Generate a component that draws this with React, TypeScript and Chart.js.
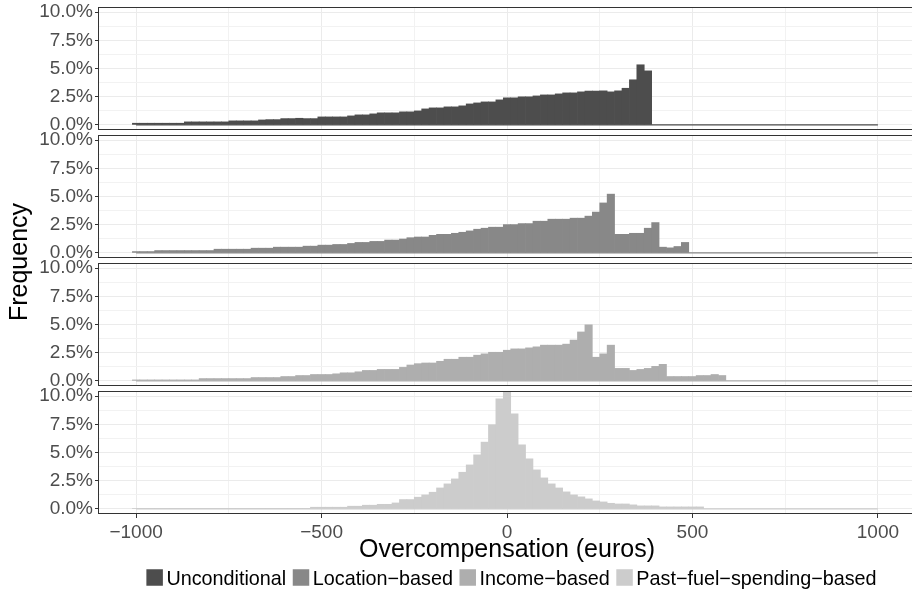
import React, { useEffect, useRef } from 'react';
import { Chart, registerables } from 'chart.js';

Chart.register(...registerables);

// ---------------- data ----------------
const BIN_CENTERS = [
  -1000, -980, -960, -940, -920, -900, -880, -860, -840, -820, -800, -780, -760, -740, -720, -700,
  -680, -660, -640, -620, -600, -580, -560, -540, -520, -500, -480, -460, -440, -420, -400, -380,
  -360, -340, -320, -300, -280, -260, -240, -220, -200, -180, -160, -140, -120, -100, -80, -60,
  -40, -20, 0, 20, 40, 60, 80, 100, 120, 140, 160, 180, 200, 220, 240, 260, 280, 300, 320, 340,
  360, 380, 400, 420, 440, 460, 480, 500, 520, 540, 560, 580, 600, 620, 640, 660, 680, 700, 720,
  740, 760, 780, 800, 820, 840, 860, 880, 900, 920, 940, 960, 980, 1000,
];

const SERIES_LABELS = ['Unconditional', 'Location\u2212based', 'Income\u2212based', 'Past\u2212fuel\u2212spending\u2212based'];
const SERIES_COLORS = ['#4D4D4D', '#888888', '#AEAEAE', '#CCCCCC'];

// frequency (%) per bin, starting at bin centre -1000
const UNCONDITIONAL = [
  0.15, 0.15, 0.15, 0.15, 0.15, 0.15, 0.15,
  0.27, 0.27, 0.27, 0.27, 0.27, 0.27,
  0.36, 0.36, 0.36, 0.36,
  0.44, 0.47, 0.47, 0.56, 0.56, 0.59, 0.56, 0.56,
  0.71, 0.71, 0.71, 0.71, 0.8, 0.89, 0.89, 0.98,
  1.07, 1.07, 1.07, 1.16, 1.16, 1.24,
  1.42, 1.51, 1.51, 1.6, 1.6, 1.69, 1.86, 1.95, 2.04, 2.04, 2.22,
  2.4, 2.4, 2.49, 2.49, 2.57, 2.66, 2.66, 2.75, 2.84, 2.84,
  2.93, 3.0, 3.0, 3.02, 2.93, 3.02, 3.25, 4.0, 5.33, 4.79,
];

const LOCATION_BASED = [
  0.12, 0.12, 0.12,
  0.21, 0.21, 0.21, 0.21, 0.21, 0.21, 0.21, 0.21,
  0.33, 0.33, 0.33, 0.33, 0.33,
  0.42, 0.42, 0.42,
  0.51, 0.51, 0.51, 0.51,
  0.6, 0.6, 0.69, 0.69, 0.75, 0.75, 0.84, 0.93, 0.93, 1.02, 1.02, 1.14, 1.14, 1.23, 1.35,
  1.41, 1.41, 1.56, 1.65, 1.65, 1.74, 1.83, 1.95, 2.1, 2.19, 2.28, 2.28,
  2.51, 2.51, 2.6, 2.6, 2.81, 2.81, 2.99, 2.99, 2.99, 3.08, 3.08, 3.26, 3.62, 4.43, 5.21,
  1.65, 1.65, 1.74, 1.74, 2.19, 2.69, 0.51, 0.45, 0.57, 0.93,
];

const INCOME_BASED = [
  0.09, 0.09, 0.09, 0.09, 0.09, 0.09, 0.09, 0.09, 0.09,
  0.21, 0.21, 0.21, 0.21, 0.21, 0.21, 0.21,
  0.3, 0.3, 0.3, 0.3,
  0.39, 0.39, 0.48, 0.48, 0.57, 0.57, 0.57, 0.63, 0.72, 0.72, 0.81, 0.93, 0.93, 1.02, 1.02, 1.02, 1.2,
  1.41, 1.53, 1.59, 1.59, 1.74, 1.92, 1.92, 2.1, 2.1, 2.28, 2.4, 2.54, 2.54,
  2.72, 2.84, 2.84, 2.93, 3.02, 3.17, 3.17, 3.17, 3.26, 3.62, 4.34, 4.97,
  2.1, 2.4, 3.17, 1.11, 1.11, 0.93, 1.02, 1.11, 1.29, 1.47,
  0.39, 0.39, 0.39, 0.39, 0.48, 0.48, 0.57, 0.48,
];

const PAST_FUEL_BASED = [
  0.03, 0.03, 0.03, 0.03, 0.03, 0.03, 0.03, 0.03, 0.03, 0.03, 0.03, 0.03,
  0.03, 0.03, 0.03, 0.03, 0.03, 0.03, 0.03, 0.03, 0.03, 0.03, 0.03, 0.03,
  0.15, 0.15, 0.15, 0.15, 0.15, 0.24, 0.24, 0.33, 0.33, 0.41, 0.41, 0.53,
  0.83, 0.83, 1.04, 1.24, 1.48, 1.86, 2.22, 2.66, 3.25, 3.9, 4.79, 5.92, 7.46, 9.76,
  10.45, 8.43, 5.68, 4.44, 3.46, 2.75, 2.22, 1.86, 1.51, 1.24, 1.07, 0.89, 0.71, 0.62, 0.5,
  0.44, 0.44, 0.36, 0.27, 0.27, 0.27, 0.18, 0.18, 0.18, 0.18, 0.18, 0.18,
];

const SERIES_VALUES = [UNCONDITIONAL, LOCATION_BASED, INCOME_BASED, PAST_FUEL_BASED];

const X_TICKS = [-1000, -750, -500, -250, 0, 250, 500, 750, 1000];
const X_TICK_LABELS = ['\u22121000', '', '\u2212500', '', '0', '', '500', '', '1000'];
const Y_TICKS = [0, 1.25, 2.5, 3.75, 5, 6.25, 7.5, 8.75, 10];
const Y_TICK_LABELS = ['0.0%', '', '2.5%', '', '5.0%', '', '7.5%', '', '10.0%'];

const X_TITLE = 'Overcompensation (euros)';
const Y_TITLE = 'Frequency';

// ---------------- layout / style ----------------
const FONT = "'Liberation Sans', Arial, Helvetica, sans-serif";
const CANVAS_W = 915;
const CANVAS_H = 605;
const PANEL_LEFT = 99;
const TOP_PAD = 7;
const X_AXIS_H = 91;
const PANEL_WEIGHT = 123;
const GAP_WEIGHT = 5;
const X_MIN = -1100;
const X_MAX = 1100;
const Y_MIN = -0.45;
const Y_MAX = 10.45;

const PANEL_IDS = ['y0', 'y1', 'y2', 'y3'];
const GAP_IDS = ['ygap0', 'ygap1', 'ygap2'];

function zeroPadding(s: any) {
  s.paddingTop = 0;
  s.paddingBottom = 0;
  s.paddingLeft = 0;
  s.paddingRight = 0;
}

function buildConfig(): any {
  const datasets: any[] = [];
  SERIES_VALUES.forEach((vals, i) => {
    datasets.push({
      type: 'bar',
      label: SERIES_LABELS[i],
      data: vals.map((v, j) => ({ x: BIN_CENTERS[j], y: v })),
      xAxisID: 'x',
      yAxisID: PANEL_IDS[i],
      backgroundColor: SERIES_COLORS[i],
      borderWidth: 0,
      grouped: false,
      barPercentage: 1,
      categoryPercentage: 1,
    });
    datasets.push({
      type: 'line',
      label: SERIES_LABELS[i] + ' baseline',
      data: [
        { x: BIN_CENTERS[0], y: 0 },
        { x: BIN_CENTERS[BIN_CENTERS.length - 1], y: 0 },
      ],
      xAxisID: 'x',
      yAxisID: PANEL_IDS[i],
      borderColor: SERIES_COLORS[i],
      borderWidth: 1.2,
      pointRadius: 0,
      fill: false,
    });
  });

  const scales: any = {
    x: {
      type: 'linear',
      position: 'bottom',
      min: X_MIN,
      max: X_MAX,
      offset: false,
      bounds: 'data',
      afterBuildTicks: (s: any) => {
        s.ticks = X_TICKS.map((v) => ({ value: v }));
      },
      afterFit: (s: any) => {
        s.height = X_AXIS_H;
        zeroPadding(s);
      },
      ticks: {
        autoSkip: false,
        maxRotation: 0,
        minRotation: 0,
        padding: 5.5,
        color: '#4D4D4D',
        font: { family: FONT, size: 19, lineHeight: 1 },
        callback: (_v: any, idx: number) => X_TICK_LABELS[idx],
      },
      grid: {
        offset: false,
        drawTicks: true,
        tickLength: 4,
        tickWidth: 1,
        tickColor: (c: any) => (X_TICK_LABELS[c.index] ? '#333333' : 'rgba(0,0,0,0)'),
        color: (c: any) => (X_TICK_LABELS[c.index] ? '#EBEBEB' : '#F2F2F2'),
        lineWidth: 1,
      },
      border: { display: false },
      title: {
        display: true,
        text: X_TITLE,
        color: '#000000',
        font: { family: FONT, size: 25 },
        padding: { top: 0, bottom: 40 },
      },
    },
  };

  const order = ['y0', 'ygap0', 'y1', 'ygap1', 'y2', 'ygap2', 'y3'];
  order.forEach((id, k) => {
    const weight = order.length - k;
    if (id.startsWith('ygap')) {
      scales[id] = {
        type: 'linear',
        axis: 'y',
        position: 'left',
        stack: 'facets',
        stackWeight: GAP_WEIGHT,
        weight,
        display: false,
        afterFit: (s: any) => {
          s.width = PANEL_LEFT;
          zeroPadding(s);
        },
      };
    } else {
      scales[id] = {
        type: 'linear',
        axis: 'y',
        position: 'left',
        stack: 'facets',
        stackWeight: PANEL_WEIGHT,
        weight,
        min: Y_MIN,
        max: Y_MAX,
        bounds: 'data',
        afterBuildTicks: (s: any) => {
          s.ticks = Y_TICKS.map((v) => ({ value: v }));
        },
        afterFit: (s: any) => {
          s.width = PANEL_LEFT;
          zeroPadding(s);
        },
        ticks: {
          autoSkip: false,
          padding: 2,
          color: '#4D4D4D',
          font: { family: FONT, size: 19 },
          callback: (_v: any, idx: number) => Y_TICK_LABELS[idx],
        },
        grid: {
          drawTicks: true,
          tickLength: 4,
          tickWidth: 1,
          tickColor: (c: any) => (Y_TICK_LABELS[c.index] ? '#333333' : 'rgba(0,0,0,0)'),
          color: (c: any) => (Y_TICK_LABELS[c.index] ? '#EBEBEB' : '#F2F2F2'),
          lineWidth: 1,
        },
        border: { display: false },
      };
    }
  });

  const facetPlugin = {
    id: 'facetDecor',
    afterDatasetsDraw(chart: any) {
      const { ctx, chartArea } = chart;
      ctx.save();
      ctx.fillStyle = '#FFFFFF';
      GAP_IDS.forEach((id) => {
        const s = chart.scales[id];
        ctx.fillRect(chartArea.left - 1, s.top, chartArea.right - chartArea.left + 2, s.bottom - s.top);
      });
      ctx.strokeStyle = '#333333';
      ctx.lineWidth = 1;
      PANEL_IDS.forEach((id) => {
        const s = chart.scales[id];
        const x0 = Math.round(chartArea.left) - 0.5;
        const x1 = Math.round(chartArea.right) - 0.5;
        const y0 = Math.round(s.top) + 0.5;
        const y1 = Math.round(s.bottom) - 0.5;
        ctx.strokeRect(x0, y0, x1 - x0, y1 - y0);
      });
      ctx.restore();
    },
    afterDraw(chart: any) {
      const { ctx, chartArea } = chart;
      ctx.save();
      // y title
      ctx.fillStyle = '#000000';
      ctx.font = `25px ${FONT}`;
      ctx.textAlign = 'center';
      ctx.textBaseline = 'alphabetic';
      ctx.translate(27, (chartArea.top + chartArea.bottom) / 2 + 1.5);
      ctx.rotate(-Math.PI / 2);
      ctx.fillText(Y_TITLE, 0, 0);
      ctx.restore();

      // legend
      ctx.save();
      const swatch = 16.5;
      const gapText = 3.5;
      const gapItem = 6.5;
      ctx.font = `19.8px ${FONT}`;
      const widths = SERIES_LABELS.map((l) => ctx.measureText(l).width);
      let total = 0;
      widths.forEach((w, i) => {
        total += swatch + gapText + w + (i < widths.length - 1 ? gapItem : 0);
      });
      let x = 511.5 - total / 2;
      const centerY = 577.5;
      const baseline = centerY + 0.358 * 19.8;
      const swTop = centerY - swatch / 2;
      ctx.textAlign = 'left';
      ctx.textBaseline = 'alphabetic';
      SERIES_LABELS.forEach((label, i) => {
        ctx.fillStyle = SERIES_COLORS[i];
        ctx.fillRect(x, swTop, swatch, swatch);
        ctx.fillStyle = '#000000';
        ctx.fillText(label, x + swatch + gapText, baseline);
        x += swatch + gapText + widths[i] + gapItem;
      });
      ctx.restore();
    },
  };

  return {
    type: 'bar',
    data: { datasets },
    options: {
      responsive: false,
      animation: false,
      devicePixelRatio: 1,
      events: [],
      layout: { padding: { top: TOP_PAD, left: 0, right: 0, bottom: 0 } },
      plugins: {
        legend: { display: false },
        tooltip: { enabled: false },
        title: { display: false },
      },
      scales,
    },
    plugins: [facetPlugin],
  };
}

export default function App() {
  const canvasRef = useRef<HTMLCanvasElement | null>(null);

  useEffect(() => {
    if (!canvasRef.current) return;
    const chart = new Chart(canvasRef.current, buildConfig());
    return () => {
      chart.destroy();
    };
  }, []);

  return (
    <div
      style={{
        position: 'fixed',
        left: 0,
        top: 0,
        width: 912,
        height: 605,
        overflow: 'hidden',
        background: '#FFFFFF',
      }}
    >
      <canvas
        ref={canvasRef}
        width={CANVAS_W}
        height={CANVAS_H}
        style={{ display: 'block', width: CANVAS_W, height: CANVAS_H }}
      />
    </div>
  );
}
